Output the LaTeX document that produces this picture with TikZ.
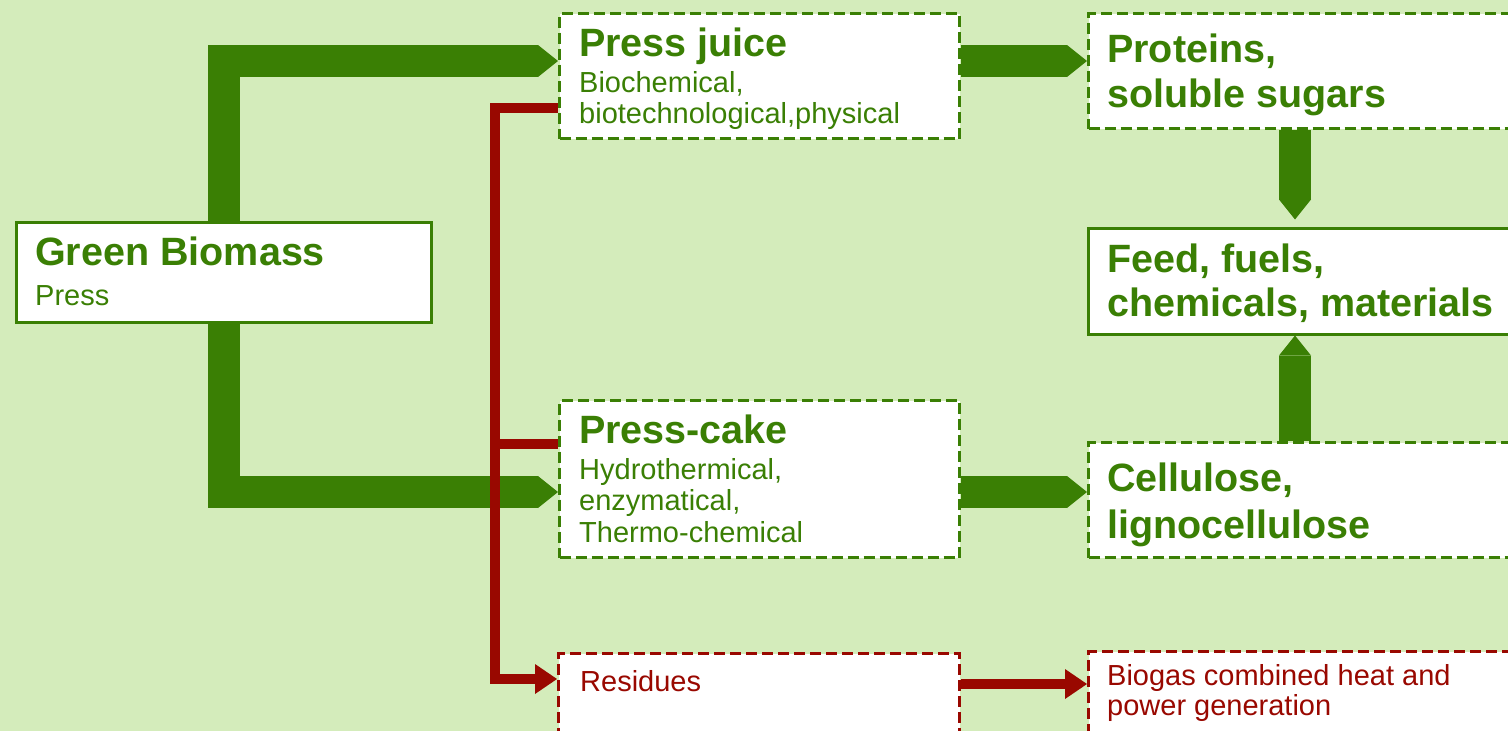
\documentclass[tikz,border=0pt]{standalone}
\usepackage{fontspec}
\setmainfont{Liberation Sans}
\usetikzlibrary{arrows.meta,calc}
\definecolor{bgc}{RGB}{212,236,187}
\definecolor{gr}{RGB}{58,127,4}
\definecolor{rd}{RGB}{153,8,0}
\pgfdeclarelayer{bglayer}
\pgfdeclarelayer{arrlayer}
\pgfsetlayers{bglayer,arrlayer,main}
\begin{document}
\begin{tikzpicture}[x=1pt,y=-1pt,
  box/.style={draw=gr, line width=3pt, fill=white, inner sep=0pt, anchor=north west},
  dbox/.style={box, dash pattern=on 11pt off 5pt},
  rbox/.style={dbox, draw=rd},
  title/.style={anchor=base west, inner sep=0pt, text=gr, font=\fontsize{39.5}{45}\selectfont\bfseries},
  sub/.style={anchor=base west, inner sep=0pt, text=gr, font=\fontsize{29}{31}\selectfont},
  rsub/.style={sub, text=rd},
  garrow/.style={draw=gr, line width=32pt, line join=miter,
    -{Triangle[length=20pt,width=32pt,line width=0pt]}},
  rline/.style={draw=rd, line width=10.5pt, line join=miter},
  rarrow/.style={rline, -{Triangle[length=22pt,width=30pt,line width=0pt]}}]
\useasboundingbox (0,0) rectangle (1508,731);
\clip (0,0) rectangle (1508,731);
\begin{pgfonlayer}{bglayer}
\fill[bgc] (0,0) rectangle (1508,731);
\end{pgfonlayer}

% boxes
\path
  node[box, minimum width=415pt, minimum height=100pt] (gb) at (15,221) {}
  node[dbox, minimum width=400pt, minimum height=125pt] (pj) at (558,12) {}
  node[dbox, minimum width=400pt, minimum height=157pt] (pc) at (558,399) {}
  node[rbox, minimum width=401pt, minimum height=100pt] (rs) at (557,652) {}
  node[dbox, minimum width=450pt, minimum height=115pt] (pr) at (1087,12) {}
  node[box, minimum width=450pt, minimum height=106pt] (fd) at (1087,226.5) {}
  node[dbox, minimum width=450pt, minimum height=115pt] (ce) at (1087,441) {}
  node[rbox, minimum width=450pt, minimum height=100pt] (bg) at (1087,650) {};

\begin{pgfonlayer}{arrlayer}
% green arrows
\draw[garrow] (gb.north) |- ($(pj.north west)+(0,49)$);
\draw[garrow] (gb.south) |- ($(pc.north west)+(0,93)$);
\draw[garrow] ($(pj.north east)+(0,49)$) -- ($(pr.north west)+(0,49)$);
\draw[garrow] ($(pc.north east)+(0,93)$) -- ($(ce.north west)+(0,51)$);
\draw[garrow] ($(pr.south west)+(208,0)$) -- ($(fd.north west)+(208,-7)$);
\draw[garrow] ($(ce.north west)+(208,0)$) -- ($(fd.south west)+(208,0)$);
% red lines
\draw[rarrow] ($(pj.north west)+(0,96)$) -| ($(rs.north west)+(-62,27)$) -- ($(rs.north west)+(0,27)$);
\draw[rline] ($(pc.north west)+(0,45)$) -- ($(pc.north west)+(-67,45)$);
\draw[rarrow] ($(rs.north east)+(0,32)$) -- ($(bg.north west)+(0,34)$);
\end{pgfonlayer}

% texts
\node[title] (tgb) at (35,265) {Green Biomass};
\node[sub] (sgb) at (35,305) {Press};
\node[title] (tpj) at (579,56) {Press juice};
\node[sub] (spj1) at (579,92) {Biochemical,};
\node[sub] (spj2) at (579,123) {biotechnological,physical};
\node[title] (tpc) at (579,443) {Press-cake};
\node[sub] (spc1) at (579,479) {Hydrothermical,};
\node[sub] (spc2) at (579,510) {enzymatical,};
\node[sub] (spc3) at (579,542) {Thermo-chemical};
\node[rsub] (srs) at (580,691) {Residues};
\node[title] (tpr1) at (1107,62) {Proteins,};
\node[title] (tpr2) at (1107,107) {soluble sugars};
\node[title] (tfd1) at (1107,272) {Feed, fuels,};
\node[title] (tfd2) at (1107,316) {chemicals, materials};
\node[title] (tce1) at (1107,491) {Cellulose,};
\node[title] (tce2) at (1107,538) {lignocellulose};
\node[rsub] (sbg1) at (1107,685) {Biogas combined heat and};
\node[rsub] (sbg2) at (1107,715) {power generation};
\end{tikzpicture}
\end{document}
